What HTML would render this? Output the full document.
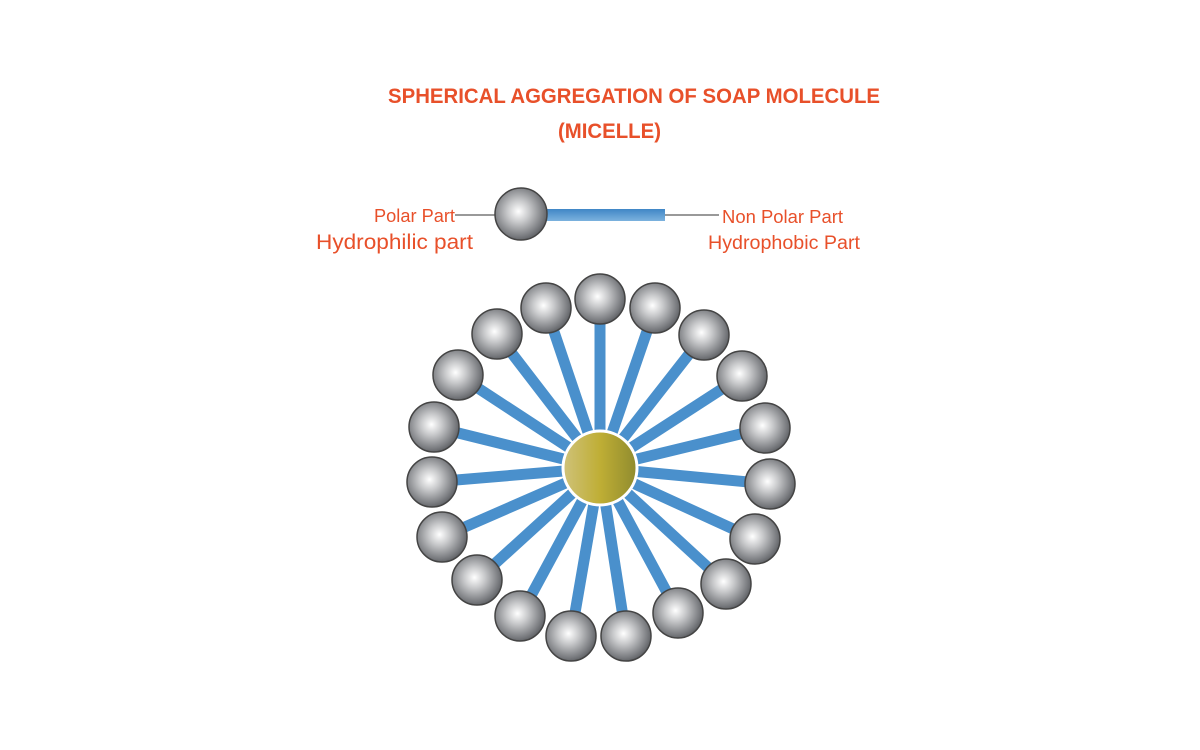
<!DOCTYPE html>
<html><head><meta charset="utf-8"><style>
body{margin:0;background:#fff;}
svg{display:block}
text{font-family:"Liberation Sans",Arial,sans-serif;fill:#e8502a}
</style></head><body>
<svg width="1200" height="750" viewBox="0 0 1200 750">
<defs>
<radialGradient id="b" cx="0.45" cy="0.45" r="0.6">
<stop offset="0" stop-color="#ffffff"/><stop offset="0.35" stop-color="#c8c9cb"/><stop offset="0.8" stop-color="#7a7c80"/><stop offset="1" stop-color="#55575b"/>
</radialGradient>
<linearGradient id="g" x1="0" x2="1" y1="0" y2="0">
<stop offset="0" stop-color="#cfc27a"/><stop offset="0.5" stop-color="#bfae35"/><stop offset="1" stop-color="#8f8b2e"/>
</linearGradient>
<linearGradient id="s" x1="0" x2="0" y1="0" y2="1">
<stop offset="0" stop-color="#3f86c6"/><stop offset="1" stop-color="#7bb2de"/>
</linearGradient>
</defs>
<text x="388" y="103" font-size="21" font-weight="bold" textLength="492" lengthAdjust="spacingAndGlyphs">SPHERICAL AGGREGATION OF SOAP MOLECULE</text>
<text x="558" y="138" font-size="21" font-weight="bold" textLength="103" lengthAdjust="spacingAndGlyphs">(MICELLE)</text>
<text x="374" y="222" font-size="18" textLength="81" lengthAdjust="spacingAndGlyphs">Polar Part</text>
<text x="316" y="249" font-size="21" textLength="157" lengthAdjust="spacingAndGlyphs">Hydrophilic part</text>
<text x="722" y="223" font-size="18" textLength="121" lengthAdjust="spacingAndGlyphs">Non Polar Part</text>
<text x="708" y="249" font-size="19" textLength="152" lengthAdjust="spacingAndGlyphs">Hydrophobic Part</text>
<line x1="455" y1="215" x2="496" y2="215" stroke="#333" stroke-width="1"/>
<line x1="665" y1="215" x2="719" y2="215" stroke="#333" stroke-width="1"/>
<rect x="540" y="209" width="125" height="12" fill="url(#s)"/>
<circle cx="521" cy="214" r="26" fill="url(#b)" stroke="#444" stroke-width="1.5"/>
<g stroke="#4a90cc" stroke-width="11">
<line x1="600" y1="468" x2="600" y2="299"/>
<line x1="600" y1="468" x2="655" y2="308"/>
<line x1="600" y1="468" x2="546" y2="308"/>
<line x1="600" y1="468" x2="497" y2="334"/>
<line x1="600" y1="468" x2="704" y2="335"/>
<line x1="600" y1="468" x2="458" y2="375"/>
<line x1="600" y1="468" x2="742" y2="376"/>
<line x1="600" y1="468" x2="765" y2="428"/>
<line x1="600" y1="468" x2="434" y2="427"/>
<line x1="600" y1="468" x2="770" y2="484"/>
<line x1="600" y1="468" x2="432" y2="482"/>
<line x1="600" y1="468" x2="755" y2="539"/>
<line x1="600" y1="468" x2="442" y2="537"/>
<line x1="600" y1="468" x2="726" y2="584"/>
<line x1="600" y1="468" x2="477" y2="580"/>
<line x1="600" y1="468" x2="678" y2="613"/>
<line x1="600" y1="468" x2="520" y2="616"/>
<line x1="600" y1="468" x2="626" y2="636"/>
<line x1="600" y1="468" x2="571" y2="636"/>
</g>
<circle cx="600" cy="468" r="37" fill="url(#g)" stroke="#fff" stroke-width="3"/>
<g fill="url(#b)" stroke="#444" stroke-width="1.5">
<circle cx="600" cy="299" r="25"/>
<circle cx="655" cy="308" r="25"/>
<circle cx="546" cy="308" r="25"/>
<circle cx="497" cy="334" r="25"/>
<circle cx="704" cy="335" r="25"/>
<circle cx="458" cy="375" r="25"/>
<circle cx="742" cy="376" r="25"/>
<circle cx="765" cy="428" r="25"/>
<circle cx="434" cy="427" r="25"/>
<circle cx="770" cy="484" r="25"/>
<circle cx="432" cy="482" r="25"/>
<circle cx="755" cy="539" r="25"/>
<circle cx="442" cy="537" r="25"/>
<circle cx="726" cy="584" r="25"/>
<circle cx="477" cy="580" r="25"/>
<circle cx="678" cy="613" r="25"/>
<circle cx="520" cy="616" r="25"/>
<circle cx="626" cy="636" r="25"/>
<circle cx="571" cy="636" r="25"/>
</g>
</svg>
</body></html>
